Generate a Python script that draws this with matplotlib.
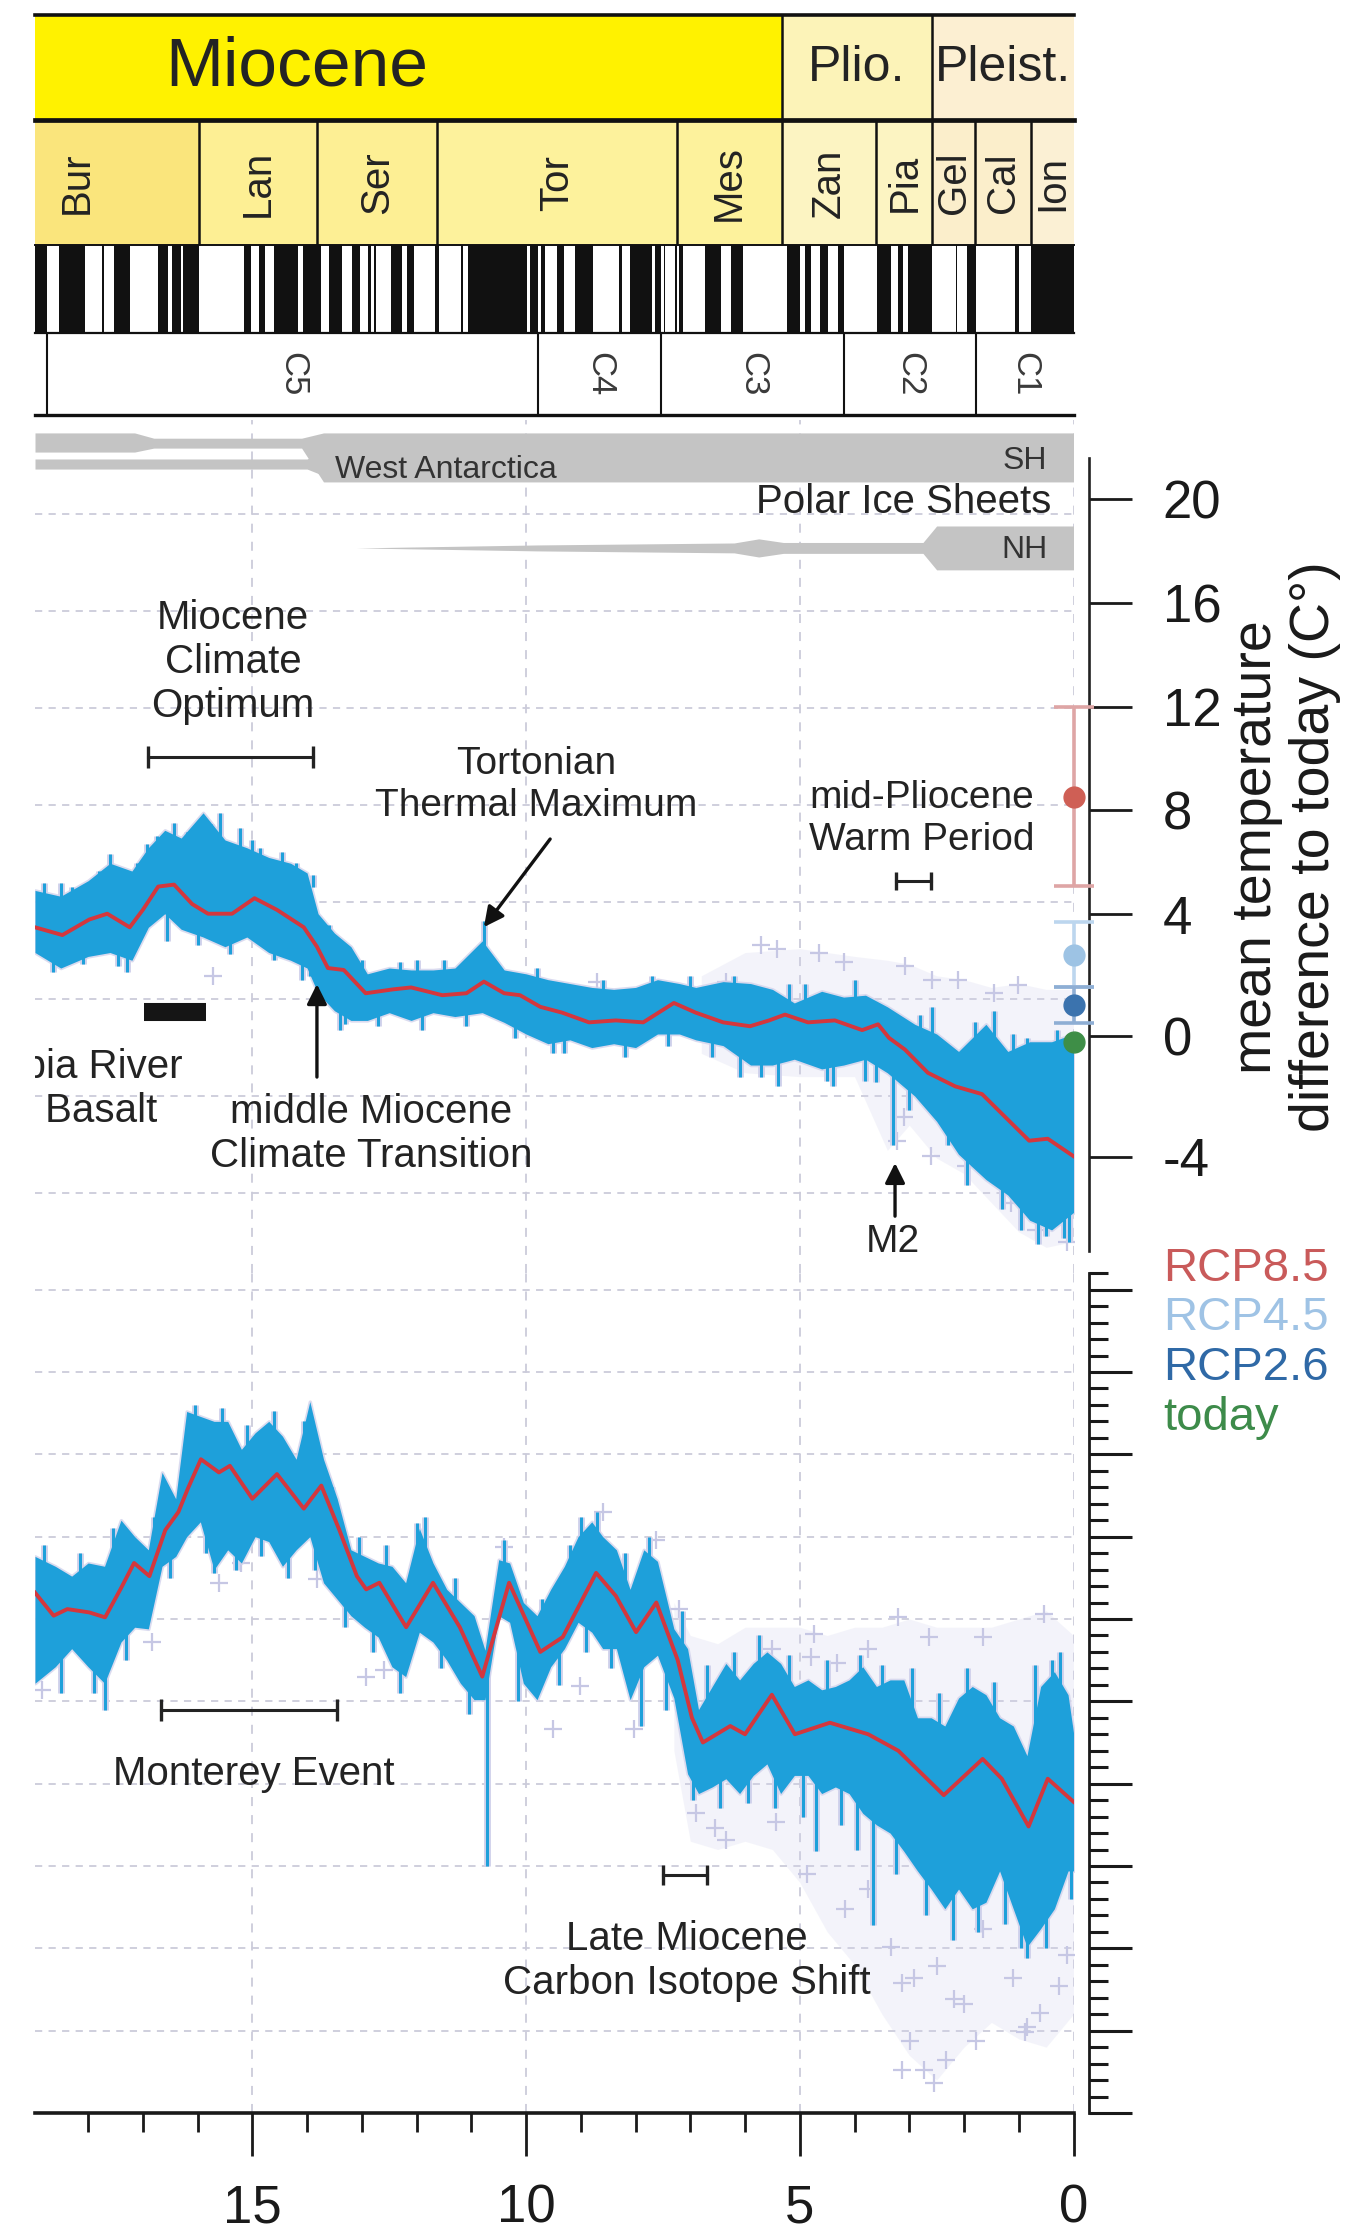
import numpy as np
import matplotlib.pyplot as plt
from matplotlib.ticker import MultipleLocator, FixedLocator

plt.rcParams['font.family'] = ['Liberation Sans', 'DejaVu Sans']
plt.rcParams['axes.unicode_minus'] = False

W, H = 1357, 2230
AGE_MAX = 18.97

# ---- geologic time scale (Ma) ----
epoch_names = ['Miocene', 'Plio.', 'Pleist.']
epoch_start = [23.03, 5.333, 2.58]
epoch_end = [5.333, 2.58, 0.0]
epoch_colors = ['#fff200', '#fcf3b8', '#fcefd2']

stage_names = ['Bur', 'Lan', 'Ser', 'Tor', 'Mes', 'Zan', 'Pia', 'Gel', 'Cal', 'Ion']
stage_start = [20.44, 15.97, 13.82, 11.63, 7.246, 5.333, 3.6, 2.58, 1.8, 0.774]
stage_end = [15.97, 13.82, 11.63, 7.246, 5.333, 3.6, 2.58, 1.8, 0.774, 0.0]
stage_colors = ['#fae57c', '#fdef94', '#fdef94', '#fdf29c', '#fdf29c',
                '#fcf4c2', '#fcf4c2', '#fbeecb', '#fbeecb', '#fbf0d4']

chron_names = ['C5', 'C4', 'C3', 'C2', 'C1']
chron_start = [18.748, 9.786, 7.528, 4.187, 1.778]
chron_end = [9.786, 7.528, 4.187, 1.778, 0.0]

# normal polarity intervals (young, old)
normal_young = [0.0, 0.988, 1.778, 2.128, 2.581, 3.116, 3.330, 4.187, 4.493, 4.799,
                4.997, 6.033, 6.436, 7.140, 7.251, 7.454, 7.528, 7.695, 8.254, 8.771,
                9.311, 9.647, 9.786, 9.984, 11.146, 11.592, 12.049, 12.272, 12.735, 12.829,
                13.032, 13.363, 13.739, 14.163, 14.775, 15.032, 15.974, 16.303, 16.543, 17.235,
                17.717, 18.056, 18.748]
normal_old = [0.781, 1.072, 1.945, 2.148, 3.032, 3.207, 3.596, 4.300, 4.631, 4.896,
              5.235, 6.252, 6.733, 7.212, 7.285, 7.489, 7.642, 8.108, 8.300, 9.105,
              9.426, 9.721, 9.937, 11.056, 11.188, 11.657, 12.174, 12.474, 12.770, 12.887,
              13.183, 13.608, 14.070, 14.609, 14.870, 15.160, 16.268, 16.472, 16.721, 17.533,
              17.740, 18.524, 19.722]

# ---- polar ice sheet extent (relative band units) ----
sh_age = [18.97, 17.15, 16.8, 14.1, 13.7, 0.0]
sh_top = [9.52, 9.52, 9.2, 9.2, 9.52, 9.52]
sh_bot = [8.36, 8.36, 8.6, 8.6, 6.55, 6.55]
wa_age = [18.97, 14.0, 13.75]
wa_top = [7.94, 7.94, 8.4]
wa_bot = [7.33, 7.33, 7.0]
nh_age = [13.1, 9.8, 6.2, 5.75, 5.3, 2.75, 2.5, 0.0]
nh_top = [2.55, 2.73, 2.85, 3.10, 2.88, 2.88, 3.88, 3.88]
nh_bot = [2.55, 2.37, 2.25, 2.00, 2.22, 2.22, 1.22, 1.22]

# ---- benthic d18O (permil), upper panel ----
top_env_age = [18.97, 18.5, 18.0, 17.6, 17.2, 16.9, 16.6, 16.3, 15.9, 15.5,
               15.1, 14.7, 14.3, 14.0, 13.8, 13.5, 13.2, 12.9, 12.5, 12.1,
               11.7, 11.3, 10.8, 10.4, 10.0, 9.6, 9.2, 8.8, 8.4, 8.0,
               7.6, 7.2, 6.9, 6.4, 5.9, 5.5, 5.1, 4.6, 4.2, 3.8,
               3.4, 2.9, 2.5, 2.1, 1.6, 1.2, 0.8, 0.4, 0.0]
top_env_hi = [1.94, 1.97, 1.89, 1.80, 1.84, 1.72, 1.63, 1.67, 1.54, 1.68,
              1.72, 1.77, 1.80, 1.85, 2.06, 2.16, 2.23, 2.37, 2.34, 2.35,
              2.35, 2.34, 2.20, 2.35, 2.37, 2.40, 2.42, 2.44, 2.45, 2.44,
              2.40, 2.42, 2.44, 2.41, 2.42, 2.45, 2.52, 2.46, 2.49, 2.48,
              2.54, 2.63, 2.68, 2.77, 2.63, 2.77, 2.72, 2.72, 2.68]
top_env_lo = [2.26, 2.34, 2.28, 2.26, 2.30, 2.13, 2.06, 2.14, 2.18, 2.23,
              2.18, 2.26, 2.30, 2.34, 2.47, 2.56, 2.61, 2.61, 2.57, 2.61,
              2.57, 2.59, 2.57, 2.62, 2.68, 2.73, 2.71, 2.75, 2.73, 2.75,
              2.68, 2.68, 2.71, 2.74, 2.84, 2.84, 2.81, 2.86, 2.84, 2.81,
              2.88, 3.00, 3.13, 3.30, 3.43, 3.51, 3.64, 3.69, 3.60]

top_spike_age = [18.5, 17.6, 16.92, 16.44, 15.59, 15.22, 14.86, 13.89, 12.0, 10.77,
                 5.2, 2.58, 1.45, 17.29, 16.55, 14.09, 13.4, 11.9, 9.5, 6.1,
                 5.4, 4.4, 3.8, 3.30, 3.0, 1.95, 0.96, 0.65, 0.18,
                 18.8, 18.65, 18.3, 18.1, 17.8, 17.45, 17.1, 16.75, 16.2, 16.0,
                 15.75, 15.4, 15.0, 14.6, 14.45, 14.2, 13.95, 13.6, 13.3, 13.0,
                 12.7, 12.3, 11.5, 11.1, 10.6, 10.2, 9.8, 9.3, 8.6, 8.2,
                 7.7, 7.4, 7.0, 6.6, 6.2, 5.7, 4.9, 4.5, 4.0, 3.6,
                 2.8, 2.3, 1.8, 1.3, 1.1, 0.85, 0.5, 0.3, 0.08]
top_spike_from = [2.00, 1.86, 1.78, 1.70, 1.70, 1.74, 1.80, 1.92, 2.40, 2.38,
                  2.52, 2.72, 2.70, 2.24, 2.02, 2.30, 2.55, 2.56, 2.70, 2.78,
                  2.80, 2.80, 2.78, 2.80, 2.92, 3.20, 3.50, 3.55, 3.55,
                  2.00, 2.20, 2.00, 2.20, 1.95, 2.20, 1.95, 1.80, 1.80, 2.10,
                  1.75, 2.10, 1.80, 2.15, 1.85, 1.90, 2.25, 2.25, 2.45, 2.40,
                  2.50, 2.42, 2.42, 2.50, 2.40, 2.50, 2.45, 2.60, 2.50, 2.65,
                  2.50, 2.60, 2.50, 2.65, 2.55, 2.70, 2.55, 2.70, 2.55, 2.70,
                  2.75, 3.00, 2.80, 3.30, 2.90, 3.10, 3.40, 2.90, 3.50]
top_spike_to = [1.90, 1.75, 1.70, 1.59, 1.54, 1.62, 1.72, 1.86, 2.30, 2.10,
                2.42, 2.54, 2.56, 2.36, 2.20, 2.40, 2.66, 2.66, 2.78, 2.90,
                2.95, 2.95, 2.92, 3.25, 3.07, 3.46, 3.69, 3.76, 3.73,
                1.90, 2.36, 1.92, 2.32, 1.84, 2.33, 1.80, 1.66, 1.64, 2.22,
                1.60, 2.27, 1.68, 2.30, 1.74, 1.80, 2.38, 2.12, 2.63, 2.30,
                2.64, 2.31, 2.30, 2.64, 2.30, 2.70, 2.34, 2.78, 2.40, 2.80,
                2.38, 2.74, 2.38, 2.80, 2.38, 2.90, 2.42, 2.92, 2.40, 2.93,
                2.58, 3.25, 2.62, 3.58, 2.68, 2.70, 3.72, 2.66, 3.75]

red_top_age = [18.97, 18.47, 17.98, 17.65, 17.24, 17.0, 16.72, 16.43, 16.1, 15.81,
               15.37, 14.96, 14.55, 14.06, 13.82, 13.62, 13.33, 12.93, 12.43, 12.1,
               11.53, 11.09, 10.77, 10.4, 10.11, 9.74, 9.34, 8.85, 8.36, 7.86,
               7.3, 6.9, 6.4, 5.91, 5.56, 5.27, 4.85, 4.36, 3.86, 3.57,
               3.37, 3.08, 2.66, 2.16, 1.67, 1.24, 0.81, 0.47, 0.0]
red_top_d = [2.13, 2.17, 2.09, 2.06, 2.13, 2.04, 1.92, 1.91, 2.01, 2.06,
             2.06, 1.98, 2.04, 2.13, 2.23, 2.34, 2.35, 2.47, 2.45, 2.44,
             2.48, 2.47, 2.41, 2.47, 2.48, 2.54, 2.57, 2.62, 2.61, 2.62,
             2.52, 2.57, 2.62, 2.64, 2.61, 2.58, 2.62, 2.61, 2.66, 2.63,
             2.70, 2.76, 2.88, 2.95, 2.99, 3.11, 3.23, 3.22, 3.31]

lav_top_age = [15.71, 8.7, 6.35, 5.70, 5.41, 4.64, 4.2, 3.08, 2.58, 2.11, 1.45,
               1.02, 3.22, 3.1, 2.6, 1.96, 1.67, 0.68, 0.33, 0.12, 1.15]
lav_top_d = [2.38, 2.41, 2.41, 2.22, 2.24, 2.26, 2.31, 2.33, 2.40, 2.40, 2.47,
             2.43, 3.23, 3.11, 3.31, 3.36, 3.26, 3.69, 3.63, 3.75, 3.55]

# extent of the denser scatter cloud around the young part of the record
cloud_top_age = [6.8, 6.0, 5.0, 4.0, 3.4, 3.0, 2.5, 2.0, 1.5, 1.0, 0.5, 0.0]
cloud_top_hi = [2.38, 2.26, 2.24, 2.28, 2.30, 2.32, 2.38, 2.40, 2.44, 2.42, 2.45, 2.45]
cloud_top_lo = [2.78, 2.88, 2.90, 2.90, 3.28, 3.15, 3.32, 3.40, 3.55, 3.70, 3.78, 3.75]

# ---- benthic d13C (permil), lower panel ----
bot_env_age = [18.97, 18.6, 18.3, 18.0, 17.7, 17.4, 17.15, 16.9, 16.65, 16.4,
               16.2, 15.95, 15.7, 15.45, 15.2, 14.95, 14.7, 14.45, 14.2, 13.95,
               13.7, 13.45, 13.2, 12.95, 12.7, 12.45, 12.2, 11.95, 11.7, 11.45,
               11.2, 10.95, 10.75, 10.5, 10.3, 10.05, 9.8, 9.55, 9.3, 9.05,
               8.8, 8.6, 8.35, 8.1, 7.85, 7.6, 7.3, 7.05, 6.85, 6.6,
               6.35, 6.1, 5.85, 5.6, 5.35, 5.1, 4.85, 4.6, 4.35, 4.1,
               3.85, 3.6, 3.35, 3.1, 2.85, 2.6, 2.35, 2.1, 1.85, 1.6,
               1.35, 1.1, 0.85, 0.6, 0.35, 0.1, 0.0]
bot_env_hi = [1.38, 1.32, 1.26, 1.34, 1.32, 1.60, 1.50, 1.42, 1.89, 1.73,
              2.26, 2.23, 2.20, 2.20, 2.03, 2.13, 2.20, 2.11, 1.97, 2.32,
              1.97, 1.73, 1.42, 1.38, 1.34, 1.32, 1.22, 1.55, 1.34, 1.18,
              1.10, 1.02, 0.81, 1.36, 1.34, 1.10, 1.02, 1.18, 1.32, 1.50,
              1.59, 1.50, 1.42, 1.18, 1.42, 1.35, 0.94, 0.82, 0.45, 0.59,
              0.73, 0.63, 0.73, 0.80, 0.73, 0.59, 0.63, 0.57, 0.59, 0.63,
              0.71, 0.59, 0.63, 0.63, 0.40, 0.40, 0.35, 0.52, 0.59, 0.54,
              0.40, 0.35, 0.17, 0.59, 0.68, 0.54, 0.31]
bot_env_lo = [0.61, 0.71, 0.82, 0.71, 0.61, 0.86, 0.95, 0.94, 1.32, 1.38,
              1.50, 1.59, 1.30, 1.42, 1.34, 1.50, 1.47, 1.32, 1.42, 1.50,
              1.22, 1.12, 1.02, 0.95, 0.89, 0.71, 0.65, 0.92, 0.86, 0.75,
              0.61, 0.51, 0.51, 1.02, 0.98, 0.61, 0.51, 0.71, 0.82, 0.98,
              0.92, 0.82, 0.82, 0.51, 0.71, 0.78, 0.52, 0.06, -0.06, -0.02,
              0.03, -0.06, 0.05, 0.12, -0.06, 0.05, 0.05, -0.06, -0.02, -0.06,
              -0.18, -0.25, -0.30, -0.41, -0.53, -0.64, -0.76, -0.64, -0.76, -0.72,
              -0.53, -0.76, -0.99, -0.88, -0.76, -0.53, -0.53]

bot_spike_age = [17.69, 15.7, 12.0, 10.72, 9.0, 7.9, 4.7, 3.9, 3.67, 0.85, 0.4,
                 18.8, 18.5, 18.15, 17.9, 17.55, 17.3, 16.8, 16.5, 16.05, 15.85,
                 15.55, 15.3, 15.1, 14.85, 14.6, 14.35, 14.05, 13.85, 13.55, 13.3,
                 13.05, 12.8, 12.55, 12.3, 11.85, 11.55, 11.3, 11.05, 10.4, 10.15,
                 9.7, 9.4, 9.2, 8.9, 8.7, 8.45, 8.2, 7.75, 7.45, 7.15,
                 6.95, 6.7, 6.45, 6.2, 5.95, 5.75, 5.45, 5.2, 4.95, 4.5,
                 4.25, 3.95, 3.5, 3.25, 2.95, 2.7, 2.45, 2.2, 1.95, 1.75,
                 1.45, 1.25, 0.95, 0.7, 0.5, 0.25, 0.05]
bot_spike_from = [0.70, 1.45, 1.20, 0.70, 1.40, 0.70, 0.05, 0.55, -0.15, -0.90, 0.50,
                  1.00, 0.90, 1.00, 0.90, 1.10, 1.00, 1.30, 1.50, 1.80, 1.80,
                  1.80, 1.70, 1.80, 1.80, 1.80, 1.70, 1.70, 1.60, 1.50, 1.30,
                  1.20, 1.10, 1.10, 0.90, 1.20, 1.00, 0.90, 0.80, 1.20, 0.80,
                  0.80, 1.00, 1.10, 1.20, 1.30, 1.10, 1.00, 1.00, 0.90, 0.70,
                  0.30, 0.30, 0.30, 0.30, 0.30, 0.40, 0.30, 0.30, 0.30, 0.30,
                  0.30, 0.30, 0.20, 0.20, 0.10, 0.00, 0.00, -0.10, 0.10, 0.00,
                  0.00, -0.10, -0.20, 0.00, -0.10, 0.10, 0.00]
bot_spike_to = [0.45, 1.28, 1.58, -0.50, 1.62, 0.35, -0.41, 0.78, -0.86, -1.06, 0.75,
                1.45, 0.55, 1.40, 0.55, 1.55, 0.75, 1.62, 1.25, 2.30, 1.40,
                2.28, 1.30, 2.18, 1.38, 2.26, 1.25, 2.20, 1.30, 1.80, 0.95,
                1.50, 0.80, 1.45, 0.55, 1.62, 0.70, 1.25, 0.42, 1.48, 0.50,
                1.12, 0.60, 1.45, 0.80, 1.65, 0.70, 1.40, 1.50, 0.45, 1.05,
                -0.10, 0.72, -0.15, 0.80, -0.12, 0.90, -0.15, 0.78, -0.20, 0.75,
                -0.25, -0.40, 0.72, -0.55, 0.70, -0.80, 0.55, -0.95, 0.70, -0.90,
                0.62, -0.85, -1.00, 0.72, -1.00, 0.80, -0.70]

red_bot_age = [18.97, 18.63, 18.38, 17.98, 17.69, 17.41, 17.16, 16.88, 16.59, 16.35,
               16.18, 15.94, 15.61, 15.41, 15.0, 14.55, 14.06, 13.74, 13.41, 13.09,
               12.92, 12.68, 12.19, 11.7, 11.21, 10.8, 10.31, 9.74, 9.33, 8.72,
               8.36, 7.99, 7.62, 7.23, 6.97, 6.77, 6.27, 6.0, 5.51, 5.09,
               4.45, 3.75, 3.2, 2.37, 1.66, 1.31, 0.82, 0.47, 0.0]
red_bot_c = [1.16, 1.02, 1.06, 1.04, 1.01, 1.18, 1.34, 1.26, 1.54, 1.65,
             1.79, 1.97, 1.89, 1.93, 1.73, 1.88, 1.67, 1.81, 1.54, 1.26,
             1.18, 1.22, 0.95, 1.22, 0.95, 0.65, 1.22, 0.80, 0.89, 1.28,
             1.14, 0.92, 1.10, 0.75, 0.40, 0.25, 0.35, 0.30, 0.54, 0.30,
             0.37, 0.30, 0.20, -0.07, 0.15, 0.03, -0.26, 0.03, -0.11]

lav_bot_age = [3.2, 2.64, 1.65, 0.54, 3.75, 4.32, 4.8, 5.5, 4.74, 6.55,
               6.35, 6.9, 5.43, 4.87, 3.33, 2.91, 2.50, 2.0, 1.66, 1.1,
               0.61, 0.26, 0.89, 3.75, 4.17, 0.12, 3.13, 2.18, 2.99, 1.78,
               2.33, 3.13, 2.73, 0.85, 2.55, 15.61, 16.84, 15.2, 13.82, 12.92,
               12.59, 10.4, 8.6, 8.03, 7.62, 7.21, 9.5, 9.01, 18.84]
lav_bot_c = [1.01, 0.89, 0.89, 1.03, 0.82, 0.73, 0.77, 0.82, 0.91, -0.27,
             -0.34, -0.18, -0.23, -0.55, -0.99, -1.18, -1.11, -1.34, -0.88, -1.18,
             -1.39, -1.23, -1.51, -0.64, -0.76, -1.04, -1.21, -1.31, -1.56, -1.56,
             -1.68, -1.74, -1.74, -1.48, -1.82, 1.22, 0.86, 1.34, 1.24, 0.65,
             0.69, 1.44, 1.65, 0.33, 1.48, 1.06, 0.33, 0.59, 0.57]

cloud_bot_age = [7.3, 7.0, 6.5, 6.0, 5.5, 5.0, 4.5, 4.0, 3.5, 3.0, 2.5, 2.0, 1.5, 1.0, 0.5, 0.0]
cloud_bot_hi = [1.10, 0.90, 0.85, 0.95, 0.95, 0.95, 0.90, 0.95, 0.95, 1.00, 0.95, 0.95, 0.95, 1.00, 1.05, 0.90]
cloud_bot_lo = [0.20, -0.35, -0.40, -0.35, -0.40, -0.60, -0.90, -1.10, -1.40, -1.65, -1.80, -1.60, -1.45, -1.55, -1.60, -1.40]

# ---- projected warming relative to today (deg C) ----
scen_names = ['RCP8.5', 'RCP4.5', 'RCP2.6', 'today']
scen_mid = [8.5, 2.65, 1.0, -0.2]
scen_low = [5.1, 1.6, 0.4, -0.2]
scen_high = [12.0, 3.75, 1.6, -0.2]
scen_dot = ['#cf5f55', '#9dc3e4', '#3b73ae', '#3e8e47']
scen_bar = ['#dea5a5', '#bcd6ee', '#8eaed4', '#3e8e47']
scen_text = ['#c95a5a', '#9fc3e5', '#2f69a6', '#3d8b4a']

TEXT = '#232323'
GRID = '#cbcbda'
BLUE = '#1ea0da'
RED = '#d4373d'
LAVENDER = '#d2d3ec'
ICE = '#c4c4c4'


def d_to_temp(d):
    d = np.asarray(d, dtype=float)
    return np.where(d <= 2.062, 4 + 7.48 * (2.062 - d), 4 - 6.39 * (d - 2.062))


def temp_to_d(t):
    t = np.asarray(t, dtype=float)
    return np.where(t >= 4, 2.062 - (t - 4) / 7.48, 2.062 + (4 - t) / 6.39)


fig = plt.figure(figsize=(W / 100, H / 100), dpi=100)


def px_axes(left, top, right, bottom):
    return fig.add_axes([left / W, 1 - bottom / H, (right - left) / W, (bottom - top) / H])


def bracket(ax, a, b, y, ms=16):
    ax.plot([a, b], [y, y], color=TEXT, lw=2.2, marker='|', ms=ms, mew=2.4, zorder=5)


def arrow(ax, tail, head):
    ax.annotate('', xy=head, xytext=tail,
                arrowprops=dict(arrowstyle='-|>', color='#111111', lw=2.4,
                                mutation_scale=30, shrinkA=0, shrinkB=0), zorder=5)


def record(ax, env_age, env_hi, env_lo, sp_age, sp_from, sp_to,
           cl_age, cl_hi, cl_lo, pt_age, pt_val, red_age, red_val):
    ax.fill_between(cl_age, cl_hi, cl_lo, color=LAVENDER, alpha=0.25, lw=0, zorder=1)
    ax.plot(pt_age, pt_val, '+', color='#c6c7e4', ms=13, mew=1.6, zorder=1.2)
    ax.fill_between(env_age, env_hi, env_lo, facecolor=LAVENDER,
                    edgecolor=LAVENDER, lw=2.5, alpha=0.8, zorder=1.5)
    ax.vlines(sp_age, sp_from, sp_to, color=LAVENDER, lw=5, zorder=1.6)
    ax.fill_between(env_age, env_hi, env_lo, color=BLUE, lw=0, zorder=2)
    ax.vlines(sp_age, sp_from, sp_to, color=BLUE, lw=2.2, zorder=2.1)
    ax.plot(red_age, red_val, color=RED, lw=2.8, zorder=3)


# ---------------- time scale ----------------
ts = px_axes(35, 15, 1073.5, 415)
ts.set_xlim(AGE_MAX, 0)
ts.set_ylim(0, 400)
ts.axis('off')

ts.broken_barh([(e, s - e) for s, e in zip(epoch_start, epoch_end)], (295, 105),
               facecolors=epoch_colors)
for name, s, e, fs in zip(epoch_names, epoch_start, epoch_end, [50, 36, 36]):
    ts.text((s + e) / 2, 347, name, ha='center', va='center', fontsize=fs,
            color=TEXT, clip_on=True)

ts.broken_barh([(e, s - e) for s, e in zip(stage_start, stage_end)], (170, 125),
               facecolors=stage_colors)
for name, s, e in zip(stage_names, stage_start, stage_end):
    ts.text((s + e) / 2, 232, name, ha='center', va='center', rotation=90,
            fontsize=29, color=TEXT, clip_on=True)

ts.broken_barh([(y, o - y) for y, o in zip(normal_young, normal_old)], (82, 88),
               facecolors='#111111')

for name, s, e in zip(chron_names, chron_start, chron_end):
    ts.text((s + e) / 2, 41, name, ha='center', va='center', rotation=270,
            fontsize=25, color='#3a3a3a')

for yy, lw in [(400, 2.6), (295, 3.4), (170, 1.4), (82, 1.6), (0, 2.4)]:
    ts.axhline(yy, color='#111111', lw=lw, clip_on=False)
ts.vlines([5.333, 2.58], 295, 400, color='#111111', lw=1.8)
ts.vlines(stage_start[1:], 170, 295, color='#111111', lw=1.8)
ts.vlines(chron_start, 0, 82, color='#111111', lw=1.5)

# ---------------- upper panel: temperature proxy ----------------
ax_top = px_axes(35, 420, 1073.5, 1273)
ax_top.set_xlim(AGE_MAX, 0)
ax_top.set_ylim(3.912, -0.485)
ax_top.patch.set_alpha(0)
for sp in ax_top.spines.values():
    sp.set_visible(False)
ax_top.tick_params(left=False, labelleft=False, bottom=False, labelbottom=False)

for g in np.arange(0, 3.51, 0.5):
    ax_top.axhline(g, color=GRID, lw=1.3, ls=(0, (4, 3.5)), zorder=0)
for g in [15, 10, 5, 0]:
    ax_top.axvline(g, color=GRID, lw=1.3, ls=(0, (5, 5)), zorder=0)

record(ax_top, top_env_age, top_env_hi, top_env_lo,
       top_spike_age, top_spike_from, top_spike_to,
       cloud_top_age, cloud_top_hi, cloud_top_lo,
       lav_top_age, lav_top_d, red_top_age, red_top_d)

# event annotations
ax_top.text(15.35, 0.763, 'Miocene\nClimate\nOptimum', ha='center', va='center',
            fontsize=29, color=TEXT, linespacing=1.2)
bracket(ax_top, 16.9, 13.9, 1.253)
ax_top.text(9.82, 1.397, 'Tortonian\nThermal Maximum', ha='center', va='center',
            fontsize=28, color=TEXT, linespacing=1.2)
arrow(ax_top, (9.56, 1.675), (10.77, 2.129))
ax_top.text(2.77, 1.572, 'mid-Pliocene\nWarm Period', ha='center', va='center',
            fontsize=28, color=TEXT, linespacing=1.2)
bracket(ax_top, 3.24, 2.6, 1.892, ms=13)
ax_top.text(3.30, 3.753, 'M2', ha='center', va='center', fontsize=28, color=TEXT)
arrow(ax_top, (3.26, 3.619), (3.26, 3.345))
ax_top.text(12.83, 3.196, 'middle Miocene\nClimate Transition', ha='center',
            va='center', fontsize=29, color=TEXT, linespacing=1.2)
arrow(ax_top, (13.82, 2.902), (13.82, 2.423))
ax_top.text(18.79, 2.964, 'Columbia River\nFlood Basalt', ha='center', va='center',
            fontsize=29, color=TEXT, linespacing=1.2, clip_on=True)
ax_top.plot([16.98, 15.84], [2.567, 2.567], color='#151515', lw=13,
            solid_capstyle='butt', zorder=4)

# projected warming markers at the present
for mid, lo, hi, dc, bc in zip(scen_mid, scen_low, scen_high, scen_dot, scen_bar):
    if hi > lo:
        ax_top.vlines(0, temp_to_d(hi), temp_to_d(lo), color=bc, lw=2.6,
                      clip_on=False, zorder=6)
        ax_top.plot([0, 0], [temp_to_d(hi), temp_to_d(lo)], ls='none', marker='_',
                    ms=29, mew=2.6, color=bc, clip_on=False, zorder=6)
    ax_top.plot(0, temp_to_d(mid), 'o', ms=15, color=dc, mec=dc, clip_on=False, zorder=7)

# temperature scale
sec = ax_top.secondary_yaxis(1 + 15.5 / 1038.5, functions=(d_to_temp, temp_to_d))
temp_ticks = [20, 16, 12, 8, 4, 0, -4]
sec.set_ticks(temp_ticks, labels=[str(t) for t in temp_ticks])
sec.spines['right'].set_bounds(-7.1, 21.6)
sec.spines['right'].set_linewidth(1.9)
sec.spines['right'].set_color('#222222')
sec.tick_params(axis='y', direction='out', length=31, width=2.0, pad=22,
                labelsize=38, colors='#1a1a1a')

fig.text(1286 / W, 1 - 847 / H, 'mean temperature\ndifference to today (C°)',
         rotation=90, ha='center', va='center', multialignment='center',
         fontsize=40, linespacing=1.15, color='#1a1a1a')

for i, (name, col) in enumerate(zip(scen_names, scen_text)):
    fig.text(1163 / W, 1 - (1269 + 49.5 * i) / H, name, ha='left', va='center',
             fontsize=34, color=col)

# ---------------- lower panel: carbon isotopes ----------------
ax_bot = px_axes(35, 1273, 1073.5, 2113)
ax_bot.set_xlim(AGE_MAX, 0)
ax_bot.set_ylim(-2.0, 3.101)
ax_bot.patch.set_alpha(0)
ax_bot.spines['left'].set_visible(False)
ax_bot.spines['top'].set_visible(False)
ax_bot.spines['bottom'].set_linewidth(2.6)
ax_bot.spines['bottom'].set_color('#1a1a1a')
ax_bot.spines['right'].set_position(('outward', 11.2))
ax_bot.spines['right'].set_linewidth(2.0)
ax_bot.spines['right'].set_color('#1a1a1a')

ax_bot.yaxis.tick_right()
ax_bot.yaxis.set_major_locator(MultipleLocator(0.5))
ax_bot.yaxis.set_minor_locator(MultipleLocator(0.1))
ax_bot.tick_params(axis='y', which='major', direction='out', length=31, width=2.2,
                   labelright=False, colors='#1a1a1a')
ax_bot.tick_params(axis='y', which='minor', direction='out', length=14, width=2.2,
                   colors='#1a1a1a')

ax_bot.xaxis.set_major_locator(FixedLocator([15, 10, 5, 0]))
ax_bot.xaxis.set_minor_locator(MultipleLocator(1))
ax_bot.set_xticklabels(['15', '10', '5', '0'])
ax_bot.tick_params(axis='x', which='major', direction='out', length=31, width=2.0,
                   labelsize=38, pad=20, colors='#1a1a1a')
ax_bot.tick_params(axis='x', which='minor', direction='out', length=14, width=2.0,
                   colors='#1a1a1a')

for g in np.arange(-1.5, 3.01, 0.5):
    ax_bot.axhline(g, color=GRID, lw=1.3, ls=(0, (4, 3.5)), zorder=0)
for g in [15, 10, 5, 0]:
    ax_bot.axvline(g, color=GRID, lw=1.3, ls=(0, (5, 5)), zorder=0)

record(ax_bot, bot_env_age, bot_env_hi, bot_env_lo,
       bot_spike_age, bot_spike_from, bot_spike_to,
       cloud_bot_age, cloud_bot_hi, cloud_bot_lo,
       lav_bot_age, lav_bot_c, red_bot_age, red_bot_c)

bracket(ax_bot, 16.67, 13.45, 0.45)
ax_bot.text(14.98, 0.061, 'Monterey Event', ha='center', va='center', fontsize=29,
            color=TEXT, zorder=5)
bracket(ax_bot, 7.5, 6.7, -0.553, ms=14)
ax_bot.text(7.06, -1.079, 'Late Miocene\nCarbon Isotope Shift', ha='center',
            va='center', fontsize=29, color=TEXT, linespacing=1.2, zorder=5)

# ---------------- polar ice sheets ----------------
ice = px_axes(35, 425, 1073.5, 590)
ice.set_xlim(AGE_MAX, 0)
ice.set_ylim(0, 10)
ice.axis('off')
ice.fill_between(sh_age, sh_bot, sh_top, color=ICE, lw=0)
ice.fill_between(wa_age, wa_bot, wa_top, color=ICE, lw=0)
ice.fill_between(nh_age, nh_bot, nh_top, color=ICE, lw=0)
ice.text(11.46, 7.27, 'West Antarctica', ha='center', va='center', fontsize=23,
         color='#333333')
ice.text(0.89, 7.82, 'SH', ha='center', va='center', fontsize=23, color='#333333')
ice.text(0.89, 2.42, 'NH', ha='center', va='center', fontsize=23, color='#333333')
ice.text(0.41, 5.33, 'Polar Ice Sheets', ha='right', va='center', fontsize=29,
         color=TEXT)

fig.savefig('out.png', dpi=100)
